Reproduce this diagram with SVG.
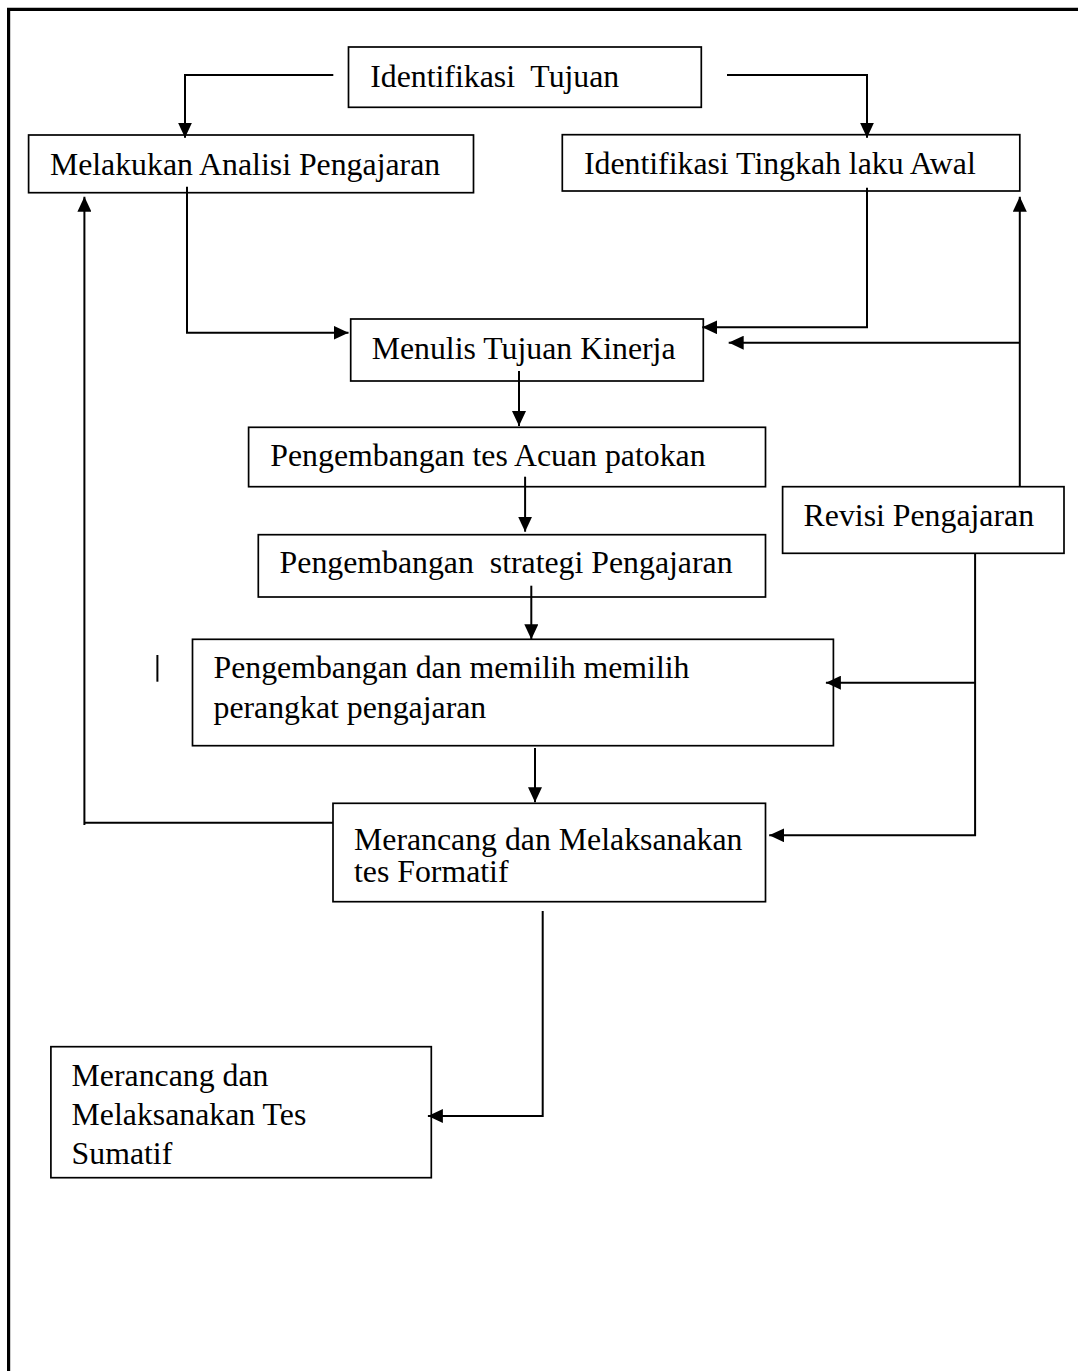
<svg xmlns="http://www.w3.org/2000/svg" width="1078" height="1371" viewBox="0 0 1078 1371">
<style>
  .box { fill: #ffffff; stroke: #000000; stroke-width: 1.7; }
  .lbl { font-family: "Liberation Serif", "Times New Roman", serif; font-size: 31.8px; fill: #000000; }
  .con { fill: none; stroke: #000000; stroke-width: 2; }
  .frame { fill: none; stroke: #000000; stroke-width: 3.2; }
</style>
<defs>
  <marker id="ah" markerUnits="userSpaceOnUse" markerWidth="15" markerHeight="14" refX="15" refY="7" orient="auto" viewBox="0 0 15 14">
    <path d="M0,0 L15,7 L0,14 z" fill="#000000"/>
  </marker>
</defs>
<rect x="0" y="0" width="1078" height="1371" fill="#ffffff"/>
<polyline class="frame" points="8.6,1371 8.6,9.3 1078,9.3"/>

<g id="n-identifikasi-tujuan">
  <rect class="box" x="348.5" y="47" width="352.8" height="60.3"/>
  <text class="lbl" x="370.2" y="87.3" xml:space="preserve">Identifikasi  Tujuan</text>
</g>
<g id="n-analisis">
  <rect class="box" x="28.6" y="135" width="444.9" height="57.7"/>
  <text class="lbl" x="49.9" y="175">Melakukan Analisi Pengajaran</text>
</g>
<g id="n-tingkah-laku">
  <rect class="box" x="562.3" y="134.7" width="457.5" height="56.3"/>
  <text class="lbl" x="583.9" y="174.3">Identifikasi Tingkah laku Awal</text>
</g>
<g id="n-tujuan-kinerja">
  <rect class="box" x="350.7" y="319" width="352.6" height="62"/>
  <text class="lbl" x="371.7" y="359.3">Menulis Tujuan Kinerja</text>
</g>
<g id="n-tes-acuan">
  <rect class="box" x="248.6" y="427.3" width="516.9" height="59.4"/>
  <text class="lbl" x="270.3" y="466">Pengembangan tes Acuan patokan</text>
</g>
<g id="n-strategi">
  <rect class="box" x="258.3" y="534.7" width="507.2" height="62.3"/>
  <text class="lbl" x="279.6" y="573.3" xml:space="preserve">Pengembangan  strategi Pengajaran</text>
</g>
<g id="n-revisi">
  <rect class="box" x="782.6" y="486.7" width="281.4" height="66.6"/>
  <text class="lbl" x="803.6" y="525.7">Revisi Pengajaran</text>
</g>
<g id="n-perangkat">
  <rect class="box" x="192.5" y="639.3" width="640.9" height="106.4"/>
  <text class="lbl" x="213.5" y="678.3">Pengembangan dan memilih memilih</text>
  <text class="lbl" x="213.5" y="718.3">perangkat pengajaran</text>
</g>
<g id="n-formatif">
  <rect class="box" x="333" y="803.3" width="432.5" height="98.4"/>
  <text class="lbl" x="354" y="850">Merancang dan Melaksanakan</text>
  <text class="lbl" x="354" y="882.3">tes Formatif</text>
</g>
<g id="n-sumatif">
  <rect class="box" x="50.9" y="1046.7" width="380.4" height="131"/>
  <text class="lbl" x="71.6" y="1086">Merancang dan</text>
  <text class="lbl" x="71.6" y="1125">Melaksanakan Tes</text>
  <text class="lbl" x="71.6" y="1164">Sumatif</text>
</g>

<g id="connectors">
  <path class="con" d="M333.3,75 H185 V137.7" marker-end="url(#ah)"/>
  <path class="con" d="M727,75 H867 V137.7" marker-end="url(#ah)"/>
  <path class="con" d="M187,186.7 V332.7 H348.5" marker-end="url(#ah)"/>
  <path class="con" d="M867,187.7 V327.3 H702.3" marker-end="url(#ah)"/>
  <path class="con" d="M519,371 V426" marker-end="url(#ah)"/>
  <path class="con" d="M525.1,476.7 V531.7" marker-end="url(#ah)"/>
  <path class="con" d="M531.3,585.7 V639.3" marker-end="url(#ah)"/>
  <path class="con" d="M535,748 V802.3" marker-end="url(#ah)"/>
  <path class="con" d="M333,822.7 H84.4"/>
  <path class="con" d="M84.4,825 V196.7" marker-end="url(#ah)"/>
  <path class="con" d="M1019.8,486.7 V196.7" marker-end="url(#ah)"/>
  <path class="con" d="M1019.8,342.7 H728.7" marker-end="url(#ah)"/>
  <path class="con" d="M975.1,553.3 V835.3 H769.2" marker-end="url(#ah)"/>
  <path class="con" d="M975.1,682.7 H825.9" marker-end="url(#ah)"/>
  <path class="con" d="M542.7,911 V1116 H427.9" marker-end="url(#ah)"/>
  <line class="con" x1="157.4" y1="655" x2="157.4" y2="681.7"/>
</g>
</svg>
